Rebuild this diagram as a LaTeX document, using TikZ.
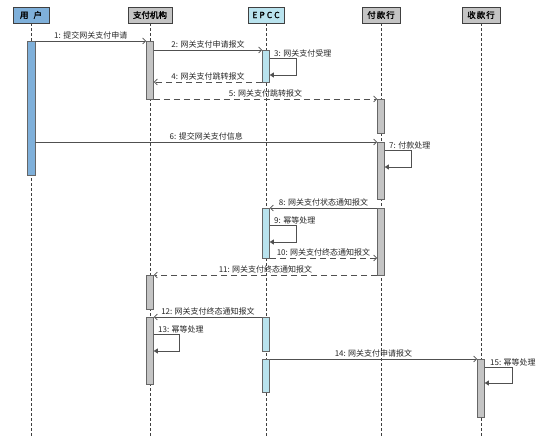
\documentclass[tikz,border=0pt]{standalone}
\usepackage{fontspec}
\setmainfont{Noto Sans CJK SC}[AutoFakeBold=1.5]
\usetikzlibrary{arrows.meta}
\definecolor{ublue}{HTML}{7FB0DA}
\definecolor{ecyan}{HTML}{B9E3EE}
\definecolor{agray}{HTML}{C4C4C4}
\definecolor{lcol}{HTML}{505050}
\begin{document}
\begin{tikzpicture}[x=1pt,y=-1pt,
  head/.style={draw=black!75, line width=0.9pt, minimum height=16pt, inner sep=0pt,
    font=\bfseries\fontsize{8.5}{9}\selectfont},
  life/.style={draw=black!75, line width=0.6pt, dash pattern=on 3pt off 2pt},
  act/.style={draw=black!60, line width=0.6pt, minimum width=7pt, inner sep=0pt, anchor=north},
  msg/.style={draw=lcol, line width=0.7pt, -{Straight Barb[length=3pt,width=6pt]}},
  rmsg/.style={msg, dash pattern=on 6pt off 4pt},
  self/.style={draw=lcol, line width=0.7pt, -{Triangle[length=4pt,width=5pt]}},
  lbl/.style={font=\fontsize{8}{9}\selectfont, text=black!85, inner sep=1pt},
]
\useasboundingbox (0,0) rectangle (554,438);
\fill[white] (0,0) rectangle (554,438);

% headers
\node[head, fill=ublue, minimum width=36pt] (uH) at (31,15) {用\hspace{5pt}户};
\node[head, fill=agray, minimum width=44pt] (pH) at (150,15) {支付机构};
\node[head, fill=ecyan, minimum width=36pt] (eH) at (266,15) {E\hspace{2pt}P\hspace{2pt}C\hspace{2pt}C};
\node[head, fill=agray, minimum width=38pt] (fH) at (381,15) {付\hspace{1pt}款\hspace{1pt}行};
\node[head, fill=agray, minimum width=38pt] (sH) at (481,15) {收\hspace{1pt}款\hspace{1pt}行};

\coordinate (bot) at (0,438);
\draw[life] (uH.south) -- (uH.south |- bot);
\draw[life] (pH.south) -- (pH.south |- bot);
\draw[life] (eH.south) -- (eH.south |- bot);
\draw[life] (fH.south) -- (fH.south |- bot);
\draw[life] (sH.south) -- (sH.south |- bot);

% activations
\node[act, fill=ublue, minimum width=8pt, minimum height=134pt] (uA) at (31,41) {};
\node[act, fill=agray, minimum height=58pt] (pA1) at (150,41) {};
\node[act, fill=ecyan, minimum height=32pt] (eA1) at (266,50) {};
\node[act, fill=agray, minimum height=34pt] (fA1) at (381,99) {};
\node[act, fill=agray, minimum height=57pt] (fA2) at (381,142) {};
\node[act, fill=agray, minimum height=67pt] (fA3) at (381,208) {};
\node[act, fill=ecyan, minimum height=50pt] (eA2) at (266,208) {};
\node[act, fill=agray, minimum height=34pt] (pA2) at (150,275) {};
\node[act, fill=agray, minimum height=67pt] (pA3) at (150,317) {};
\node[act, fill=ecyan, minimum height=34pt] (eA3) at (266,317) {};
\node[act, fill=ecyan, minimum height=33pt] (eA4) at (266,359) {};
\node[act, fill=agray, minimum height=58pt] (sA) at (481,359) {};

% messages
\draw[msg] (uA.east |- 0,41) -- node[lbl, above] {1: 提交网关支付申请} (pA1.west |- 0,41);
\draw[msg] (pA1.east |- 0,50) -- node[lbl, above] {2: 网关支付申请报文} (eA1.west |- 0,50);

\coordinate (s3a) at (296,58);
\coordinate (s3b) at (296,75);
\draw[self] (eA1.east |- s3a) -- (s3a) -- (s3b) -- (eA1.east |- s3b);
\node[lbl, anchor=south west] at (273,58) {3: 网关支付受理};

\draw[rmsg] (eA1.west |- 0,82) -- node[lbl, above] {4: 网关支付跳转报文} (pA1.east |- 0,82);
\draw[rmsg] (pA1.east |- 0,99) -- node[lbl, above] {5: 网关支付跳转报文} (fA1.west |- 0,99);
\draw[msg] (uA.east |- 0,142) -- node[lbl, above] {6: 提交网关支付信息} (fA2.west |- 0,142);

\coordinate (s7a) at (411,150);
\coordinate (s7b) at (411,167);
\draw[self] (fA2.east |- s7a) -- (s7a) -- (s7b) -- (fA2.east |- s7b);
\node[lbl, anchor=south west] at (388,150) {7: 付款处理};

\draw[msg] (fA3.west |- 0,208) -- node[lbl, above] {8: 网关支付状态通知报文} (eA2.east |- 0,208);

\coordinate (s9a) at (296,225);
\coordinate (s9b) at (296,242);
\draw[self] (eA2.east |- s9a) -- (s9a) -- (s9b) -- (eA2.east |- s9b);
\node[lbl, anchor=south west] at (273,225) {9: 幂等处理};

\draw[rmsg] (eA2.east |- 0,258) -- node[lbl, above] {10: 网关支付终态通知报文} (fA3.west |- 0,258);
\draw[rmsg] (fA3.west |- 0,275) -- node[lbl, above] {11: 网关支付终态通知报文} (pA2.east |- 0,275);
\draw[msg] (eA3.west |- 0,317) -- node[lbl, above] {12: 网关支付终态通知报文} (pA3.east |- 0,317);

\coordinate (s13a) at (179,334);
\coordinate (s13b) at (179,351);
\draw[self] (pA3.east |- s13a) -- (s13a) -- (s13b) -- (pA3.east |- s13b);
\node[lbl, anchor=south west] at (157,334) {13: 幂等处理};

\draw[msg] (eA4.east |- 0,359) -- node[lbl, above] {14: 网关支付申请报文} (sA.west |- 0,359);

\coordinate (s15a) at (512,367);
\coordinate (s15b) at (512,383);
\draw[self] (sA.east |- s15a) -- (s15a) -- (s15b) -- (sA.east |- s15b);
\node[lbl, anchor=south west] at (489,367) {15: 幂等处理};
\end{tikzpicture}
\end{document}
